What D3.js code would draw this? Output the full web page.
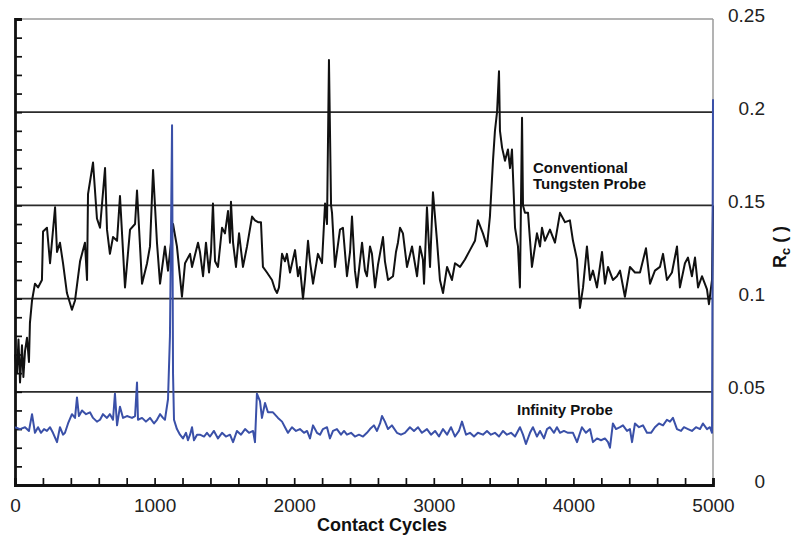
<!DOCTYPE html>
<html>
<head>
<meta charset="utf-8">
<script src="https://cdn.jsdelivr.net/npm/d3@7"></script>
<style>
  body { margin: 0; background: #fff; }
  svg { display: block; }
  .tick-label { font-family: "Liberation Sans Narrow", "Arial Narrow", "Liberation Sans", Arial, sans-serif; font-size: 19px; fill: #222; }
  .bold-label { font-family: "Liberation Sans", Arial, sans-serif; font-weight: bold; fill: #111; }
</style>
</head>
<body>
<div id="container"></div>
<script>
// x axis ticks (contact cycles) and right-hand y tick labels (Rc)
var xTickValues = [0, 1000, 2000, 3000, 4000, 5000];
var yTickValues = [0, 0.05, 0.1, 0.15, 0.2, 0.25];
var yTickLabels = ["0", "0.05", "0.1", "0.15", "0.2", "0.25"];
var gridValues = [0.05, 0.1, 0.15, 0.2];

// Conventional Tungsten Probe: [cycles, Rc]
var tungsten = [
  [0,0.070],[14,0.060],[25,0.078],[36,0.055],[50,0.075],[60,0.058],[72,0.072],[86,0.079],
  [100,0.066],[107,0.087],[122,0.099],[143,0.108],[165,0.106],[193,0.110],[201,0.136],[229,0.138],
  [251,0.119],[287,0.149],[301,0.125],[322,0.130],[344,0.119],[372,0.103],[408,0.094],[430,0.099],
  [466,0.120],[501,0.130],[516,0.110],[523,0.156],[559,0.173],[587,0.143],[609,0.138],[645,0.170],
  [659,0.137],[680,0.124],[702,0.133],[731,0.131],[752,0.155],[788,0.106],[824,0.137],[860,0.140],
  [874,0.158],[910,0.108],[946,0.119],[967,0.128],[989,0.169],[1017,0.130],[1039,0.108],[1074,0.128],
  [1096,0.115],[1132,0.140],[1160,0.128],[1196,0.101],[1218,0.119],[1254,0.124],[1268,0.117],[1311,0.130],
  [1325,0.125],[1347,0.112],[1368,0.130],[1390,0.114],[1404,0.125],[1418,0.151],[1433,0.120],[1454,0.117],
  [1483,0.138],[1504,0.135],[1526,0.147],[1540,0.130],[1547,0.152],[1562,0.130],[1583,0.117],[1605,0.135],
  [1633,0.117],[1662,0.128],[1698,0.144],[1719,0.142],[1741,0.141],[1762,0.141],[1776,0.117],[1805,0.114],
  [1841,0.110],[1862,0.105],[1877,0.103],[1891,0.106],[1913,0.124],[1934,0.120],[1948,0.124],[1970,0.114],
  [2006,0.126],[2027,0.112],[2041,0.117],[2063,0.100],[2077,0.110],[2099,0.131],[2113,0.120],[2135,0.108],
  [2170,0.124],[2199,0.119],[2221,0.151],[2235,0.140],[2249,0.228],[2264,0.150],[2271,0.146],[2292,0.117],
  [2328,0.137],[2349,0.138],[2378,0.112],[2400,0.125],[2414,0.144],[2435,0.115],[2450,0.106],[2471,0.120],
  [2486,0.130],[2507,0.115],[2521,0.112],[2543,0.128],[2557,0.124],[2579,0.106],[2600,0.118],[2636,0.133],
  [2650,0.120],[2672,0.110],[2708,0.112],[2729,0.125],[2743,0.130],[2758,0.138],[2779,0.135],[2808,0.117],
  [2844,0.128],[2880,0.112],[2901,0.128],[2922,0.121],[2930,0.108],[2951,0.149],[2973,0.117],[2994,0.157],
  [3023,0.131],[3044,0.110],[3066,0.103],[3095,0.117],[3130,0.110],[3152,0.119],[3188,0.117],[3223,0.121],
  [3259,0.126],[3295,0.131],[3316,0.142],[3352,0.135],[3381,0.128],[3402,0.144],[3424,0.174],[3438,0.190],
  [3453,0.200],[3467,0.222],[3474,0.190],[3489,0.181],[3510,0.174],[3531,0.180],[3546,0.170],[3560,0.180],
  [3582,0.138],[3603,0.128],[3617,0.106],[3632,0.197],[3639,0.150],[3653,0.146],[3675,0.146],[3703,0.117],
  [3739,0.135],[3761,0.128],[3775,0.138],[3796,0.131],[3832,0.137],[3868,0.130],[3904,0.146],[3940,0.141],
  [3975,0.142],[3997,0.131],[4026,0.121],[4047,0.095],[4069,0.106],[4097,0.128],[4119,0.110],[4140,0.115],
  [4169,0.106],[4205,0.125],[4226,0.108],[4248,0.117],[4283,0.110],[4312,0.112],[4334,0.115],[4369,0.101],
  [4405,0.117],[4441,0.114],[4477,0.114],[4520,0.127],[4549,0.108],[4584,0.115],[4620,0.117],[4642,0.124],
  [4670,0.110],[4706,0.114],[4742,0.128],[4763,0.106],[4799,0.119],[4821,0.122],[4849,0.112],[4871,0.122],
  [4893,0.106],[4921,0.112],[4957,0.105],[4971,0.097],[4993,0.110],[5000,0.150]
];

// Infinity Probe: [cycles, Rc]
var infinity = [
  [0,0.031],[36,0.030],[72,0.031],[100,0.029],[122,0.038],[143,0.028],[165,0.031],[186,0.028],
  [208,0.030],[229,0.029],[251,0.031],[272,0.028],[301,0.023],[322,0.031],[344,0.027],[358,0.028],
  [380,0.033],[408,0.038],[430,0.036],[444,0.047],[458,0.037],[480,0.040],[509,0.038],[537,0.039],
  [559,0.036],[587,0.034],[609,0.035],[630,0.038],[659,0.036],[680,0.038],[702,0.035],[716,0.049],
  [731,0.032],[752,0.042],[774,0.036],[802,0.037],[838,0.036],[860,0.037],[874,0.055],[881,0.035],
  [910,0.036],[938,0.034],[967,0.036],[996,0.033],[1017,0.035],[1039,0.038],[1060,0.036],[1074,0.035],
  [1096,0.046],[1110,0.080],[1125,0.193],[1132,0.060],[1139,0.035],[1160,0.030],[1182,0.027],[1203,0.025],
  [1225,0.028],[1239,0.024],[1254,0.027],[1268,0.031],[1282,0.024],[1304,0.027],[1325,0.027],[1354,0.026],
  [1375,0.028],[1397,0.026],[1425,0.029],[1454,0.025],[1483,0.028],[1511,0.026],[1540,0.027],[1562,0.023],
  [1590,0.029],[1619,0.027],[1648,0.030],[1676,0.028],[1705,0.029],[1719,0.023],[1733,0.049],[1755,0.045],
  [1769,0.036],[1791,0.044],[1812,0.039],[1848,0.039],[1884,0.036],[1913,0.034],[1934,0.031],[1955,0.028],
  [1984,0.031],[2013,0.029],[2041,0.030],[2070,0.028],[2092,0.029],[2113,0.025],[2135,0.032],[2163,0.028],
  [2185,0.027],[2206,0.030],[2235,0.031],[2256,0.025],[2278,0.029],[2306,0.030],[2335,0.027],[2357,0.029],
  [2378,0.027],[2407,0.028],[2435,0.026],[2464,0.027],[2493,0.026],[2521,0.028],[2543,0.030],[2571,0.032],
  [2593,0.029],[2615,0.033],[2629,0.037],[2650,0.034],[2672,0.030],[2700,0.032],[2736,0.028],[2765,0.027],
  [2793,0.028],[2829,0.031],[2858,0.029],[2887,0.031],[2915,0.028],[2951,0.030],[2980,0.027],[3009,0.029],
  [3037,0.026],[3066,0.030],[3095,0.027],[3123,0.031],[3152,0.026],[3180,0.029],[3202,0.034],[3231,0.027],
  [3259,0.028],[3288,0.026],[3316,0.028],[3352,0.027],[3381,0.029],[3409,0.027],[3438,0.028],[3467,0.026],
  [3496,0.029],[3524,0.027],[3553,0.028],[3582,0.026],[3617,0.031],[3639,0.027],[3660,0.022],[3689,0.028],
  [3710,0.031],[3739,0.026],[3761,0.029],[3789,0.025],[3811,0.030],[3832,0.031],[3861,0.028],[3882,0.031],
  [3904,0.028],[3932,0.029],[3961,0.028],[3997,0.028],[4026,0.023],[4061,0.031],[4090,0.028],[4119,0.030],
  [4140,0.023],[4169,0.025],[4198,0.024],[4226,0.025],[4248,0.023],[4262,0.020],[4283,0.033],[4305,0.030],
  [4334,0.031],[4355,0.032],[4384,0.029],[4405,0.030],[4420,0.023],[4441,0.033],[4470,0.031],[4498,0.032],
  [4527,0.028],[4556,0.028],[4584,0.031],[4613,0.033],[4642,0.032],[4670,0.035],[4692,0.034],[4713,0.036],
  [4742,0.030],[4771,0.029],[4792,0.031],[4821,0.030],[4849,0.029],[4878,0.031],[4907,0.030],[4928,0.033],
  [4957,0.030],[4978,0.031],[4993,0.028],[5000,0.207]
];

var width = 794;
var height = 535;
var margin = {left: 15, top: 19, right: 81, bottom: 50};

const svg = d3.select("#container")
              .append("svg")
              .attr("width", width)
              .attr("height", height);

var xScale = d3.scaleLinear()
               .domain([0, 5000])
               .range([margin.left, width - margin.right]);

var yScale = d3.scaleLinear()
               .domain([0, 0.25])
               .range([height - margin.bottom, margin.top]);

var x0 = xScale(0), x1 = xScale(5000), y0 = yScale(0), y1 = yScale(0.25);

// frame: light top and right edges
svg.append("line")
   .attr("x1", x0).attr("x2", x1).attr("y1", y1).attr("y2", y1)
   .attr("stroke", "#9a9a9a").attr("stroke-width", 1.5);
svg.append("line")
   .attr("x1", x1).attr("x2", x1).attr("y1", y1).attr("y2", y0)
   .attr("stroke", "#9a9a9a").attr("stroke-width", 1.5);

// horizontal grid lines
svg.selectAll(".grid")
   .data(gridValues)
   .enter()
   .append("line")
   .attr("class", "grid")
   .attr("x1", x0).attr("x2", x1)
   .attr("y1", d => yScale(d)).attr("y2", d => yScale(d))
   .attr("stroke", "#2b2b2b").attr("stroke-width", 1.7);

// left axis: inward minor ticks every 0.01, no labels
var leftAxis = d3.axisRight(yScale)
                 .tickValues(d3.range(0, 26).map(i => i / 100))
                 .tickSize(7)
                 .tickFormat("");
var gl = svg.append("g")
   .attr("transform", "translate(" + x0 + ",0)")
   .call(leftAxis);
gl.select(".domain").attr("stroke", "#111").attr("stroke-width", 2.8);
gl.selectAll(".tick line").attr("stroke", "#111").attr("stroke-width", 1.7);

// bottom axis: inward ticks every 200 cycles
var bottomAxis = d3.axisTop(xScale)
                   .tickValues(d3.range(0, 5001, 200))
                   .tickSize(7)
                   .tickFormat("");
var gb = svg.append("g")
   .attr("transform", "translate(0," + y0 + ")")
   .call(bottomAxis);
gb.select(".domain").attr("stroke", "#111").attr("stroke-width", 2.8);
gb.selectAll(".tick line").attr("stroke", "#111").attr("stroke-width", 1.7);

// x tick labels
var xLabels = d3.axisBottom(xScale)
                .tickValues(xTickValues)
                .tickSize(0)
                .tickPadding(14)
                .tickFormat(d3.format("d"));
var gxl = svg.append("g")
   .attr("transform", "translate(0," + y0 + ")")
   .call(xLabels);
gxl.select(".domain").remove();
gxl.selectAll("text").attr("class", "tick-label").attr("font-size", null).attr("font-family", null);

// right tick labels
var yLabels = d3.axisRight(yScale)
                .tickValues(yTickValues)
                .tickSize(0)
                .tickFormat((d, i) => yTickLabels[i]);
var gyl = svg.append("g")
   .attr("transform", "translate(765,-4)")
   .call(yLabels);
gyl.select(".domain").remove();
gyl.selectAll("text")
   .attr("class", "tick-label")
   .attr("font-size", null).attr("font-family", null)
   .attr("x", 0)
   .attr("text-anchor", "end");

// data lines
var line = d3.line()
             .x(d => xScale(d[0]))
             .y(d => yScale(d[1]));

svg.append("path")
   .datum(tungsten)
   .attr("d", line)
   .attr("fill", "none")
   .attr("stroke", "#111")
   .attr("stroke-width", 2)
   .attr("stroke-linejoin", "round");

svg.append("path")
   .datum(infinity)
   .attr("d", line)
   .attr("fill", "none")
   .attr("stroke", "#3a50a8")
   .attr("stroke-width", 2)
   .attr("stroke-linejoin", "round");

// annotations
svg.append("text")
   .attr("class", "bold-label")
   .attr("x", 533).attr("y", 173)
   .style("font-size", "15px")
   .text("Conventional");
svg.append("text")
   .attr("class", "bold-label")
   .attr("x", 533).attr("y", 189)
   .style("font-size", "15px")
   .text("Tungsten Probe");
svg.append("text")
   .attr("class", "bold-label")
   .attr("x", 517).attr("y", 415)
   .style("font-size", "15px")
   .text("Infinity Probe");

// axis titles
svg.append("text")
   .attr("class", "bold-label")
   .attr("x", (x0 + x1) / 2 + 18)
   .attr("y", 531)
   .attr("text-anchor", "middle")
   .style("font-size", "18px")
   .text("Contact Cycles");

var yt = svg.append("text")
   .attr("class", "bold-label")
   .attr("transform", "translate(786,247) rotate(-90)")
   .attr("text-anchor", "middle")
   .style("font-size", "18px");
yt.append("tspan").text("R");
yt.append("tspan").attr("dy", 4).style("font-size", "13px").text("c");
yt.append("tspan").attr("dy", -4).text(" ( )");
</script>
</body>
</html>
